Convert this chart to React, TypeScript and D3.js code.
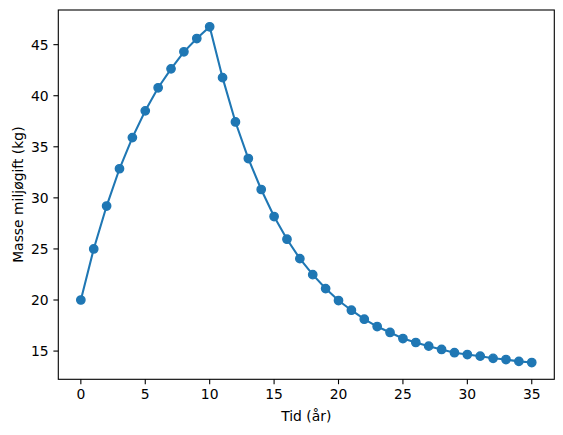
import React from "react";
import * as d3 from "d3";

const years = d3.range(0, 36);
const mass = [
  20.0, 25.0, 29.2, 32.85, 35.9, 38.52, 40.78, 42.63, 44.3, 45.6, 46.75,
  41.77, 37.43, 33.85, 30.82, 28.17, 25.95, 24.05, 22.48, 21.12, 19.95,
  19.0, 18.12, 17.4, 16.82, 16.23, 15.84, 15.48, 15.16, 14.84, 14.66,
  14.5, 14.29, 14.17, 13.99, 13.88,
];
const xTicks = [0, 5, 10, 15, 20, 25, 30, 35];
const yTicks = [15, 20, 25, 30, 35, 40, 45];
const xLabel = "Tid (år)";
const yLabel = "Masse miljøgift (kg)";

export default function App() {
  const W = 563, H = 435;
  const left = 58.3, right = 554.3, top = 10, bottom = 379.3;
  const xmin = d3.min(years)!, xmax = d3.max(years)!;
  const ymin = d3.min(mass)!, ymax = d3.max(mass)!;
  const xm = (xmax - xmin) * 0.05, ym = (ymax - ymin) * 0.05;
  const x = d3.scaleLinear().domain([xmin - xm, xmax + xm]).range([left, right]);
  const y = d3.scaleLinear().domain([ymin - ym, ymax + ym]).range([bottom, top]);
  const line = d3.line<number>().x((_, i) => x(years[i])).y((d) => y(d));
  const color = "#1f77b4";
  const font = "DejaVu Sans, sans-serif";
  const fs = 13.9;
  return (
    <svg width={W} height={H} style={{ position: "absolute", left: 0, top: 0, background: "#fff" }}>
      <rect x={0} y={0} width={W} height={H} fill="#fff" />
      <path d={line(mass) || ""} fill="none" stroke={color} strokeWidth={2.08} />
      {mass.map((v, i) => (
        <circle key={i} cx={x(years[i])} cy={y(v)} r={4.17} fill={color} stroke={color} strokeWidth={1.39} />
      ))}
      <rect x={left} y={top} width={right - left} height={bottom - top} fill="none" stroke="#000" strokeWidth={1.1} />
      {xTicks.map((t) => (
        <g key={t}>
          <line x1={x(t)} x2={x(t)} y1={bottom} y2={bottom + 4.9} stroke="#000" strokeWidth={1.1} />
          <text x={x(t)} y={bottom + 20} textAnchor="middle" fontSize={fs} fontFamily={font} fill="#000">{t}</text>
        </g>
      ))}
      {yTicks.map((t) => (
        <g key={t}>
          <line x1={left - 4.9} x2={left} y1={y(t)} y2={y(t)} stroke="#000" strokeWidth={1.1} />
          <text x={left - 9.7} y={y(t)} dy="0.36em" textAnchor="end" fontSize={fs} fontFamily={font} fill="#000">{t}</text>
        </g>
      ))}
      <text x={(left + right) / 2} y={421} textAnchor="middle" fontSize={fs} fontFamily={font} fill="#000">{xLabel}</text>
      <text transform={`translate(22.5,${(top + bottom) / 2}) rotate(-90)`} textAnchor="middle" fontSize={fs} fontFamily={font} fill="#000">{yLabel}</text>
    </svg>
  );
}
